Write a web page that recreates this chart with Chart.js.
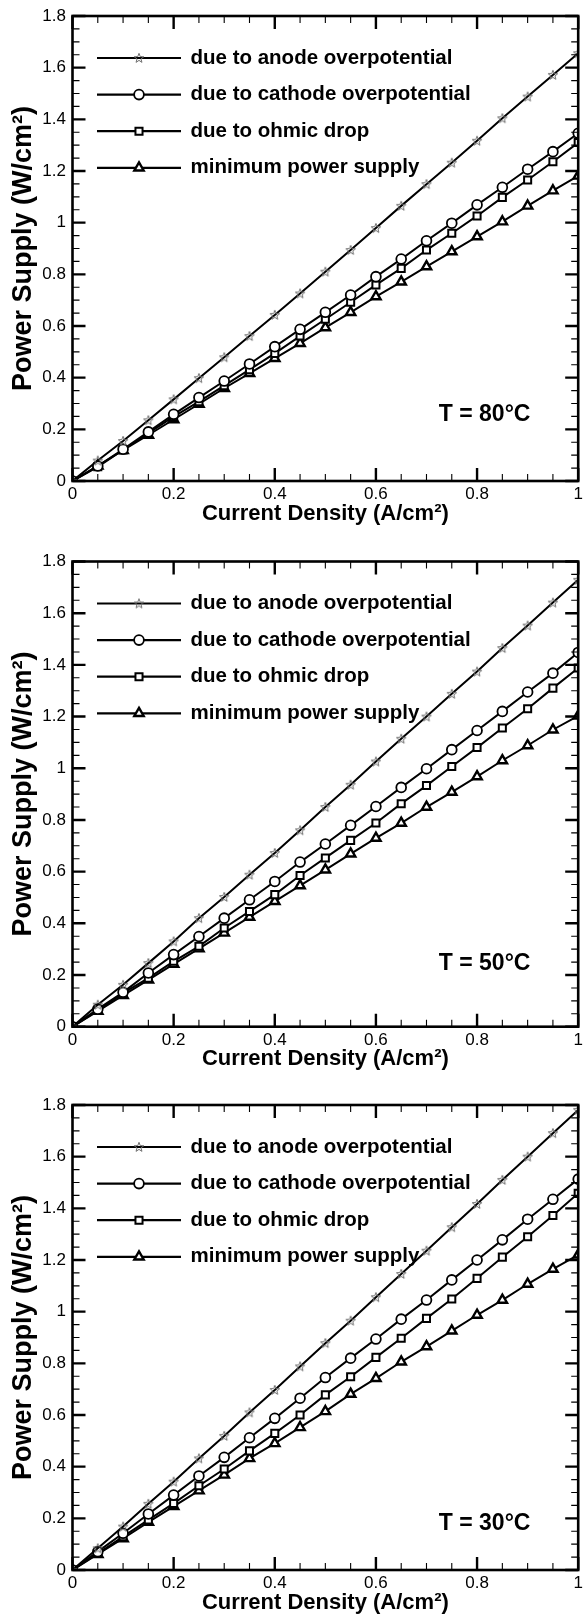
<!DOCTYPE html>
<html>
<head>
<meta charset="utf-8">
<script src="https://cdn.jsdelivr.net/npm/chart.js@4/dist/chart.umd.min.js"></script>
<style>
  html, body { margin: 0; padding: 0; background: #fff; }
  #page { position: relative; width: 586px; height: 1614px; overflow: hidden; background: #fff; }
  canvas { position: absolute; left: 0; }
</style>
</head>
<body>
<div id="page">
  <canvas id="c80" width="586" height="540" style="top:0px;width:586px;height:540px"></canvas>
  <canvas id="c50" width="586" height="545" style="top:540px;width:586px;height:545px"></canvas>
  <canvas id="c30" width="586" height="529" style="top:1085px;width:586px;height:529px"></canvas>
</div>
<script>
// Current density (A/cm2) sampled every 0.05
const currentDensity = [0, 0.05, 0.10, 0.15, 0.20, 0.25, 0.30, 0.35, 0.40, 0.45, 0.50,
                        0.55, 0.60, 0.65, 0.70, 0.75, 0.80, 0.85, 0.90, 0.95, 1.00];

const seriesLabels = ['due to anode overpotential', 'due to cathode overpotential',
                      'due to ohmic drop', 'minimum power supply'];

// Power supply (W/cm2) at T = 80 C
const anode80   = [0, 0.079, 0.155, 0.235, 0.316, 0.398, 0.479, 0.561, 0.643, 0.726, 0.810,
                   0.894, 0.979, 1.065, 1.149, 1.232, 1.317, 1.404, 1.488, 1.572, 1.656];
const cathode80 = [0, 0.058, 0.123, 0.190, 0.258, 0.323, 0.387, 0.453, 0.520, 0.587, 0.653,
                   0.720, 0.791, 0.859, 0.930, 0.998, 1.069, 1.137, 1.207, 1.275, 1.346];
const ohmic80   = [0, 0.055, 0.120, 0.185, 0.249, 0.307, 0.369, 0.431, 0.494, 0.561, 0.626,
                   0.692, 0.759, 0.823, 0.894, 0.959, 1.026, 1.098, 1.165, 1.236, 1.310];
const minimum80 = [0, 0.059, 0.119, 0.178, 0.238, 0.298, 0.359, 0.417, 0.475, 0.533, 0.594,
                   0.653, 0.714, 0.771, 0.830, 0.888, 0.946, 1.004, 1.065, 1.124, 1.181];

// Power supply (W/cm2) at T = 50 C
const anode50   = [0, 0.085, 0.162, 0.246, 0.330, 0.420, 0.502, 0.588, 0.672, 0.760, 0.850,
                   0.936, 1.026, 1.114, 1.200, 1.288, 1.374, 1.465, 1.552, 1.641, 1.729];
const cathode50 = [0, 0.068, 0.133, 0.208, 0.279, 0.349, 0.420, 0.491, 0.562, 0.637, 0.707,
                   0.779, 0.852, 0.926, 0.998, 1.072, 1.146, 1.220, 1.295, 1.368, 1.448];
const ohmic50   = [0, 0.063, 0.130, 0.188, 0.253, 0.311, 0.382, 0.446, 0.511, 0.585, 0.653,
                   0.721, 0.788, 0.863, 0.933, 1.007, 1.080, 1.156, 1.230, 1.310, 1.388];
const minimum50 = [0, 0.060, 0.121, 0.181, 0.242, 0.302, 0.363, 0.424, 0.485, 0.546, 0.607,
                   0.669, 0.730, 0.788, 0.850, 0.908, 0.968, 1.030, 1.088, 1.149, 1.203];

// Power supply (W/cm2) at T = 30 C
const anode30   = [0, 0.084, 0.168, 0.256, 0.342, 0.432, 0.519, 0.610, 0.697, 0.788, 0.878,
                   0.965, 1.056, 1.146, 1.236, 1.327, 1.417, 1.510, 1.600, 1.691, 1.781];
const cathode30 = [0, 0.071, 0.142, 0.217, 0.290, 0.364, 0.436, 0.512, 0.587, 0.665, 0.745,
                   0.820, 0.894, 0.971, 1.045, 1.123, 1.200, 1.278, 1.358, 1.435, 1.513];
const ohmic30   = [0, 0.064, 0.129, 0.194, 0.258, 0.326, 0.391, 0.461, 0.529, 0.600, 0.678,
                   0.748, 0.823, 0.897, 0.974, 1.049, 1.129, 1.211, 1.290, 1.372, 1.458];
const minimum30 = [0, 0.061, 0.122, 0.185, 0.246, 0.307, 0.368, 0.432, 0.490, 0.552, 0.614,
                   0.681, 0.742, 0.806, 0.865, 0.926, 0.987, 1.045, 1.107, 1.165, 1.220];

const xTickStep = 0.2, yTickStep = 0.2, minorStep = 0.05;

const FONT = '"Liberation Sans", Arial, Helvetica, sans-serif';

// Small grey outline star used as the anode marker
function makeStar() {
  const c = document.createElement('canvas');
  c.width = 12; c.height = 12;
  const g = c.getContext('2d');
  const cx = 6, cy = 6.3, ro = 5, ri = 2.1;
  g.beginPath();
  for (let i = 0; i < 10; i++) {
    const r = i % 2 === 0 ? ro : ri;
    const a = -Math.PI / 2 + i * Math.PI / 5;
    const px = cx + r * Math.cos(a), py = cy + r * Math.sin(a);
    if (i === 0) g.moveTo(px, py); else g.lineTo(px, py);
  }
  g.closePath();
  g.strokeStyle = '#6e6e6e';
  g.lineWidth = 1;
  g.stroke();
  return c;
}
const starMark = makeStar();

const markerStyles = [
  { pointStyle: starMark, radius: 5, border: 1 },
  { pointStyle: 'circle', radius: 4.9, border: 1.8 },
  { pointStyle: 'rect', radius: 5.0, border: 2 },
  { pointStyle: 'triangle', radius: 5.4, border: 2.4 }
];

function drawMarker(ctx, style, radius, bw, x, y) {
  ctx.save();
  ctx.strokeStyle = '#000';
  ctx.fillStyle = '#fff';
  ctx.lineWidth = bw;
  if (typeof style !== 'string') {
    ctx.drawImage(style, x - style.width / 2, y - style.height / 2);
  } else {
    ctx.beginPath();
    if (style === 'circle') {
      ctx.arc(x, y, radius, 0, Math.PI * 2);
    } else if (style === 'rect') {
      const s = radius * Math.SQRT1_2;
      ctx.rect(x - s, y - s, 2 * s, 2 * s);
    } else if (style === 'triangle') {
      let a = 0;
      for (let i = 0; i < 3; i++) {
        const px = x + Math.sin(a) * radius, py = y - Math.cos(a) * radius;
        if (i === 0) ctx.moveTo(px, py); else ctx.lineTo(px, py);
        a += 2 * Math.PI / 3;
      }
      ctx.closePath();
    }
    ctx.fill();
    ctx.stroke();
  }
  ctx.restore();
}

// Frame with inward major/minor ticks on all four sides, legend and temperature tag
const framePlugin = {
  id: 'frameTicks',
  afterDraw(chart, args, opts) {
    const { ctx, chartArea: a, scales: { x, y } } = chart;
    ctx.save();
    ctx.strokeStyle = '#000';
    ctx.lineCap = 'butt';
    const nx = Math.round((x.max - x.min) / minorStep);
    for (let i = 0; i <= nx; i++) {
      const px = x.getPixelForValue(x.min + i * minorStep);
      const major = i % Math.round(xTickStep / minorStep) === 0;
      const len = major ? 13 : 7;
      ctx.lineWidth = major ? 2.4 : 1.1;
      ctx.beginPath();
      ctx.moveTo(px, a.bottom); ctx.lineTo(px, a.bottom - len);
      ctx.moveTo(px, a.top); ctx.lineTo(px, a.top + len);
      ctx.stroke();
    }
    const ny = Math.round((y.max - y.min) / minorStep);
    for (let i = 0; i <= ny; i++) {
      const py = y.getPixelForValue(y.min + i * minorStep);
      const major = i % Math.round(yTickStep / minorStep) === 0;
      const len = major ? 13 : 7;
      ctx.lineWidth = major ? 2.4 : 1.1;
      ctx.beginPath();
      ctx.moveTo(a.left, py); ctx.lineTo(a.left + len, py);
      ctx.moveTo(a.right, py); ctx.lineTo(a.right - len, py);
      ctx.stroke();
    }
    ctx.lineWidth = 2.6;
    ctx.strokeRect(a.left, a.top, a.right - a.left, a.bottom - a.top);

    // legend
    ctx.font = 'bold 20.5px ' + FONT;
    ctx.textAlign = 'left';
    ctx.textBaseline = 'middle';
    chart.data.datasets.forEach((ds, i) => {
      const ly = a.top + 42 + i * 36.6;
      const x0 = a.left + 24.5, x1 = a.left + 108.5;
      ctx.lineWidth = 2.2;
      ctx.strokeStyle = '#000';
      ctx.beginPath();
      ctx.moveTo(x0, ly); ctx.lineTo(x1, ly);
      ctx.stroke();
      drawMarker(ctx, ds.pointStyle, ds.pointRadius, ds.pointBorderWidth, (x0 + x1) / 2, ly);
      ctx.fillStyle = '#000';
      ctx.fillText(ds.label, a.left + 118, ly);
    });

    // temperature tag
    ctx.font = 'bold 23px ' + FONT;
    ctx.textAlign = 'center';
    ctx.fillStyle = '#000';
    ctx.fillText(opts.tag, x.getPixelForValue(opts.tagX), y.getPixelForValue(opts.tagY));
    ctx.restore();
  }
};

const tickText = v => String(Number(v.toFixed(2)));

function makePanel(id, series, tag, tagY, padTop, padBottom) {
  const datasets = series.map((vals, i) => ({
    label: seriesLabels[i],
    data: currentDensity.map((xv, k) => ({ x: xv, y: vals[k] })),
    borderColor: '#000',
    borderWidth: 2,
    pointStyle: markerStyles[i].pointStyle,
    pointRadius: markerStyles[i].radius,
    pointHoverRadius: markerStyles[i].radius,
    pointBorderColor: '#000',
    pointBackgroundColor: '#fff',
    pointBorderWidth: markerStyles[i].border,
    fill: false,
    tension: 0
  }));
  return new Chart(document.getElementById(id), {
    type: 'line',
    data: { datasets },
    plugins: [framePlugin],
    options: {
      responsive: false,
      animation: false,
      devicePixelRatio: 1,
      layout: { padding: { top: padTop, bottom: padBottom, left: 0, right: 2 } },
      plugins: {
        legend: { display: false },
        tooltip: { enabled: false },
        frameTicks: { tag, tagX: 0.815, tagY }
      },
      scales: {
        x: {
          type: 'linear', min: 0, max: 1,
          grid: { display: false, drawTicks: false },
          border: { display: false },
          ticks: { stepSize: xTickStep, padding: 3, color: '#000', maxRotation: 0, autoSkip: false,
                   font: { family: FONT, size: 17 }, callback: tickText },
          title: { display: true, text: 'Current Density (A/cm²)', color: '#000',
                   font: { family: FONT, size: 22, weight: 'bold', lineHeight: 1 },
                   padding: { top: 0, bottom: -0.5 } },
          afterFit(s) { s.height = 43; s.paddingLeft = 0; s.paddingRight = 0; }
        },
        y: {
          type: 'linear', min: 0, max: 1.8,
          grid: { display: false, drawTicks: false },
          border: { display: false },
          ticks: { stepSize: yTickStep, padding: 6.5, color: '#000',
                   font: { family: FONT, size: 17 }, callback: tickText },
          title: { display: true, text: 'Power Supply (W/cm²)', color: '#000',
                   font: { family: FONT, size: 27, weight: 'bold', lineHeight: 1 },
                   padding: { top: 10, bottom: 0 } },
          afterFit(s) { s.width = 72.5; s.paddingTop = 0; s.paddingBottom = 0; }
        }
      }
    }
  });
}

makePanel('c80', [anode80, cathode80, ohmic80, minimum80], 'T = 80°C', 0.255, 16, 16);
makePanel('c50', [anode50, cathode50, ohmic50, minimum50], 'T = 50°C', 0.245, 21.5, 15.3);
makePanel('c30', [anode30, cathode30, ohmic30, minimum30], 'T = 30°C', 0.18, 20, 1);
</script>
</body>
</html>
